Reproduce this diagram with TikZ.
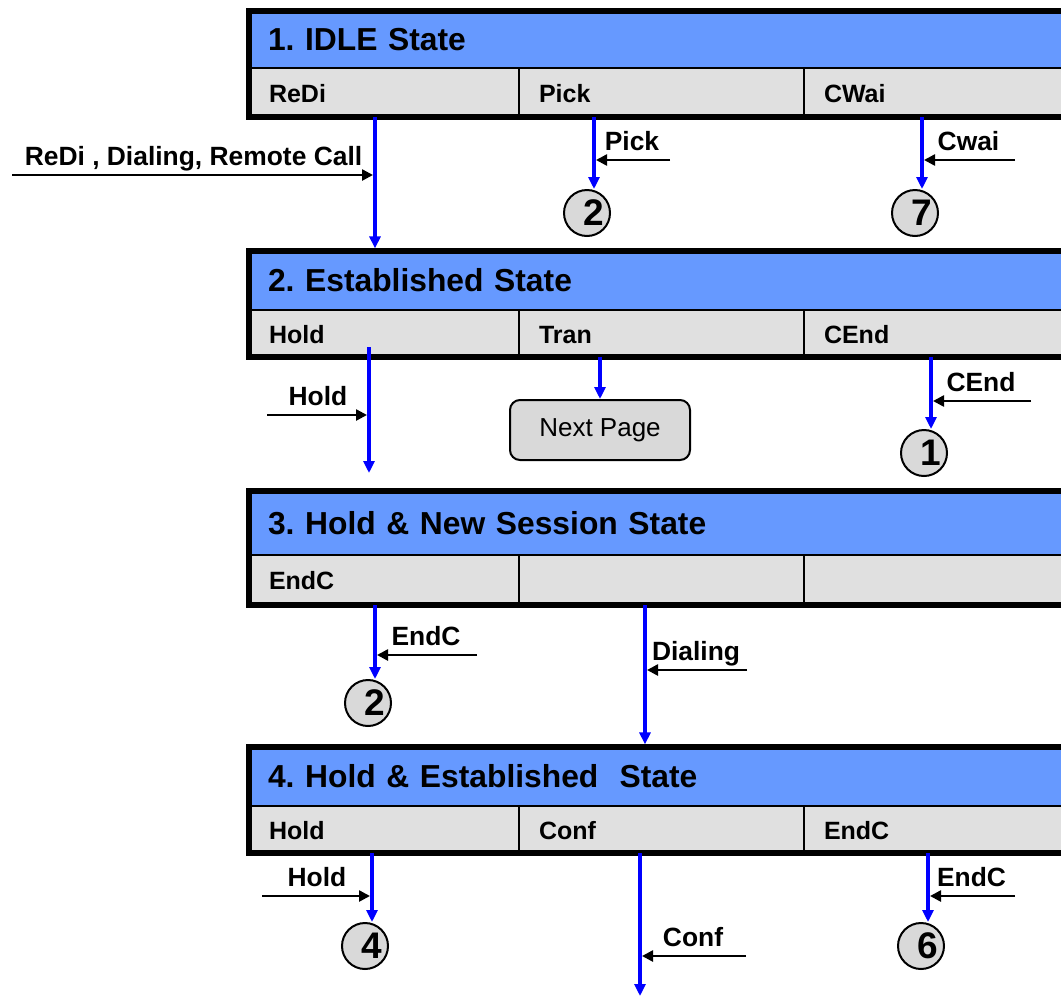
\documentclass[tikz,border=0pt]{standalone}
\usepackage{fontspec}
\setmainfont{Liberation Sans}
\usetikzlibrary{arrows.meta}
\usetikzlibrary{calc}
\frenchspacing
\definecolor{hdrblue}{RGB}{102,153,255}
\definecolor{cellgray}{RGB}{224,224,224}
\definecolor{circgray}{RGB}{217,217,217}
\definecolor{flowblue}{RGB}{0,0,255}
\tikzset{hdrbox/.style={draw=black, line width=0.75pt, fill=hdrblue, anchor=north west,
    inner xsep=9.5pt, inner ysep=0pt, outer sep=0pt, text width=396.5pt, align=left,
    font=\fontsize{15.9}{18}\selectfont\bfseries}}
\tikzset{cellbox/.style={draw=black, line width=0.75pt, fill=cellgray, anchor=north west,
    inner xsep=10pt, inner ysep=0pt, outer sep=0pt, align=left, text height=0.95em, text depth=0pt,
    font=\fontsize{12.5}{14}\selectfont\bfseries}}
\tikzset{frame/.style={draw=black, line width=2.6pt}}
\tikzset{flow/.style={draw=flowblue, line width=2pt, -{Triangle[width=5.5pt,length=6pt]}}}
\tikzset{inarrow/.style={draw=black, line width=1.25pt, -{Triangle[width=5.5pt,length=5.5pt]}, shorten >=1pt}}
\tikzset{lbl/.style={font=\fontsize{13.2}{15}\selectfont\bfseries, inner sep=2pt, text depth=0.2em}}
\tikzset{numcirc/.style={circle, draw=black, line width=1pt, fill=circgray, minimum size=23pt,
    inner sep=0pt, font=\fontsize{18.5}{20}\selectfont\bfseries}}
\tikzset{pagebox/.style={draw=black, line width=1pt, fill=circgray, rounded corners=5pt,
    minimum width=90pt, minimum height=30pt, font=\fontsize{13}{15}\selectfont}}
% name, top, header height, cell height, title, three cells
\newcommand{\statebox}[8]{
    \node[hdrbox, minimum height=#3] (#1) at (249,#2) {#5};
    \node[cellbox, minimum height=#4, text width=115pt] (#1a) at (#1.south west) {#6};
    \node[cellbox, minimum height=#4, text width=122.5pt] (#1b) at (#1a.north east) {#7};
    \node[cellbox, minimum height=#4, text width=118pt] (#1c) at (#1b.north east) {#8};
    \draw[frame] (#1.north west) rectangle (#1c.south east);
}

\begin{document}
\begin{tikzpicture}[x=0.5pt,y=-0.5pt]
        \useasboundingbox (0,0) rectangle (1061,997);
        \clip (0,0) rectangle (1061,997);

        \statebox{st1}{11}{28.5pt}{24.5pt}{1. IDLE State}{ReDi}{Pick}{CWai}
        \statebox{st2}{251}{29.5pt}{23.5pt}{2. Established State}{Hold}{Tran}{CEnd}
        \statebox{st3}{491}{32pt}{25pt}{3. Hold \& New Session State}{EndC}{}{}
        \statebox{st4}{747}{29.5pt}{23.5pt}{4. Hold \& Established\ \ State}{Hold}{Conf}{EndC}

        \node[numcirc] (n2a) at (587,213) {\hspace{7pt}2};
        \node[numcirc] (n7) at (915,213) {\hspace{7pt}7};
        \node[numcirc] (n1) at (924,453) {\hspace{7pt}1};
        \node[numcirc] (n2b) at (368,703) {\hspace{7pt}2};
        \node[numcirc] (n4) at (365,946) {\hspace{7pt}4};
        \node[numcirc] (n6) at (921,946) {\hspace{7pt}6};
        \node[pagebox] (next) at (600,430) {Next Page};

        % exits of the states
        \coordinate (redi) at (375,117);
        \coordinate (pick) at (594,117);
        \coordinate (cwai) at (922,117);
        \coordinate (hold) at (369,347);
        \coordinate (holdend) at (369,473);
        \coordinate (tran) at (600,357);
        \coordinate (cend) at (931,357);
        \coordinate (endc) at (375,605);
        \coordinate (dial) at (645,605);
        \coordinate (hold2) at (372,853);
        \coordinate (conf) at (640,853);
        \coordinate (confend) at (640,996);
        \coordinate (endc2) at (928,853);

        \draw[flow, shorten >=1.3pt] (redi) -- (redi |- st2.north);
        \draw[flow] (pick) -- (pick |- n2a.north);
        \draw[flow] (cwai) -- (cwai |- n7.north);
        \draw[flow] (hold) -- (holdend);
        \draw[flow] (tran) -- (next.north);
        \draw[flow] (cend) -- (cend |- n1.north);
        \draw[flow] (endc) -- (endc |- n2b.north);
        \draw[flow, shorten >=1.3pt] (dial) -- (dial |- st4.north);
        \draw[flow] (hold2) -- (hold2 |- n4.north);
        \draw[flow] (conf) -- (confend);
        \draw[flow] (endc2) -- (endc2 |- n6.north);

        % events
        \coordinate (in1) at (12,175);
        \coordinate (in2) at (670,160);
        \coordinate (in3) at (1015,160);
        \coordinate (in4) at (267,415);
        \coordinate (in5) at (1031,401);
        \coordinate (in6) at (477,655);
        \coordinate (in7) at (747,670);
        \coordinate (in8) at (262,896);
        \coordinate (in9) at (1015,896);
        \coordinate (in10) at (746,956);

        \draw[inarrow] (in1) -- (in1 -| redi) node[midway,above,lbl] {ReDi , Dialing, Remote Call};
        \draw[inarrow] (in2) -- (in2 -| pick) node[midway,above,lbl] {Pick};
        \draw[inarrow] (in3) -- (in3 -| cwai) node[midway,above,lbl] {Cwai};
        \draw[inarrow] (in4) -- (in4 -| hold) node[midway,above,lbl] {Hold};
        \draw[inarrow] (in5) -- (in5 -| cend) node[midway,above,lbl] {CEnd};
        \draw[inarrow] (in6) -- (in6 -| endc) node[midway,above,lbl] {EndC};
        \draw[inarrow] (in7) -- (in7 -| dial) node[midway,above,lbl] {Dialing};
        \draw[inarrow] (in8) -- (in8 -| hold2) node[midway,above,lbl] {Hold};
        \draw[inarrow] (in9) -- (in9 -| endc2) node[midway,above,lbl] {EndC};
        \draw[inarrow] (in10) -- (in10 -| conf) node[midway,above,lbl] {Conf};
\end{tikzpicture}
\end{document}
